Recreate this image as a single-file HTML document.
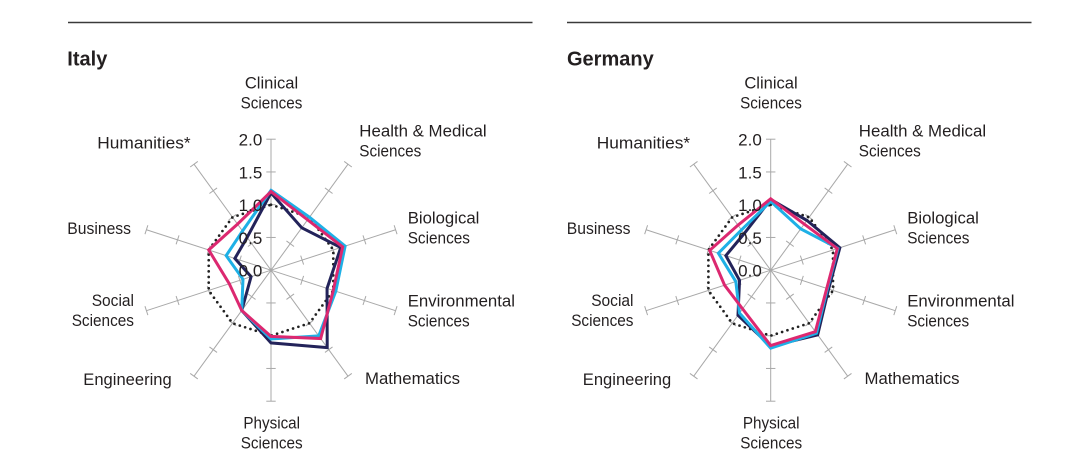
<!DOCTYPE html>
<html>
<head>
<meta charset="utf-8">
<style>
  html,body{margin:0;padding:0;background:#fff;}
  svg{display:block;}
  text{font-family:"Liberation Sans",sans-serif;fill:#231f20;}
  .lbl{font-size:17px;}
  .tk{font-size:17px;}
  .ttl{font-size:20px;font-weight:bold;}
</style>
</head>
<body>
<svg id="chart" width="1087" height="471" viewBox="0 0 1087 471" xmlns="http://www.w3.org/2000/svg">
  <rect width="1087" height="471" fill="#fff"/>
  <line x1="68" y1="22.5" x2="532.5" y2="22.5" stroke="#3a3a3a" stroke-width="1.4"/>
  <line x1="567" y1="22.5" x2="1031.5" y2="22.5" stroke="#3a3a3a" stroke-width="1.4"/>

  <g id="g0"></g>
  <g id="g1"></g>

  <!-- Italy text -->
  <text class="ttl" x="67.3" y="65.3">Italy</text>
  <g class="lbl">
    <text x="271.5" y="88.3" text-anchor="middle" textLength="53.3" lengthAdjust="spacingAndGlyphs">Clinical</text>
    <text x="271.5" y="108.3" text-anchor="middle" textLength="61.7" lengthAdjust="spacingAndGlyphs">Sciences</text>
    <text x="359.3" y="136.7" textLength="127.3" lengthAdjust="spacingAndGlyphs">Health &amp; Medical</text>
    <text x="359.3" y="156.7" textLength="62" lengthAdjust="spacingAndGlyphs">Sciences</text>
    <text x="407.7" y="223.3" textLength="71.7" lengthAdjust="spacingAndGlyphs">Biological</text>
    <text x="407.7" y="243.3" textLength="62.3" lengthAdjust="spacingAndGlyphs">Sciences</text>
    <text x="407.7" y="306.7" textLength="107.3" lengthAdjust="spacingAndGlyphs">Environmental</text>
    <text x="407.7" y="326.7" textLength="62" lengthAdjust="spacingAndGlyphs">Sciences</text>
    <text x="365" y="384" textLength="95" lengthAdjust="spacingAndGlyphs">Mathematics</text>
    <text x="271.7" y="428.3" text-anchor="middle" textLength="56.7" lengthAdjust="spacingAndGlyphs">Physical</text>
    <text x="271.7" y="448.3" text-anchor="middle" textLength="62" lengthAdjust="spacingAndGlyphs">Sciences</text>
    <text x="83.3" y="385" textLength="88.4" lengthAdjust="spacingAndGlyphs">Engineering</text>
    <text x="91.7" y="306" textLength="42.3" lengthAdjust="spacingAndGlyphs">Social</text>
    <text x="71.7" y="326" textLength="62.3" lengthAdjust="spacingAndGlyphs">Sciences</text>
    <text x="67.3" y="234" textLength="63.7" lengthAdjust="spacingAndGlyphs">Business</text>
    <text x="97.3" y="148.3" textLength="93.3" lengthAdjust="spacingAndGlyphs">Humanities*</text>
  </g>
  <g class="tk" text-anchor="end">
    <text x="262.3" y="145.7">2.0</text>
    <text x="262.3" y="178.4">1.5</text>
    <text x="262.3" y="211.2">1.0</text>
    <text x="262.3" y="243.9">0.5</text>
    <text x="262.3" y="276.7">0.0</text>
  </g>

  <!-- Germany text -->
  <text class="ttl" x="567" y="65.3">Germany</text>
  <g class="lbl">
    <text x="771" y="88.3" text-anchor="middle" textLength="53.3" lengthAdjust="spacingAndGlyphs">Clinical</text>
    <text x="771" y="108.3" text-anchor="middle" textLength="61.7" lengthAdjust="spacingAndGlyphs">Sciences</text>
    <text x="858.8" y="136.7" textLength="127.3" lengthAdjust="spacingAndGlyphs">Health &amp; Medical</text>
    <text x="858.8" y="156.7" textLength="62" lengthAdjust="spacingAndGlyphs">Sciences</text>
    <text x="907.2" y="223.3" textLength="71.7" lengthAdjust="spacingAndGlyphs">Biological</text>
    <text x="907.2" y="243.3" textLength="62.3" lengthAdjust="spacingAndGlyphs">Sciences</text>
    <text x="907.2" y="306.7" textLength="107.3" lengthAdjust="spacingAndGlyphs">Environmental</text>
    <text x="907.2" y="326.7" textLength="62" lengthAdjust="spacingAndGlyphs">Sciences</text>
    <text x="864.5" y="384" textLength="95" lengthAdjust="spacingAndGlyphs">Mathematics</text>
    <text x="771.2" y="428.3" text-anchor="middle" textLength="56.7" lengthAdjust="spacingAndGlyphs">Physical</text>
    <text x="771.2" y="448.3" text-anchor="middle" textLength="62" lengthAdjust="spacingAndGlyphs">Sciences</text>
    <text x="582.8" y="385" textLength="88.4" lengthAdjust="spacingAndGlyphs">Engineering</text>
    <text x="591.2" y="306" textLength="42.3" lengthAdjust="spacingAndGlyphs">Social</text>
    <text x="571.2" y="326" textLength="62.3" lengthAdjust="spacingAndGlyphs">Sciences</text>
    <text x="566.8" y="234" textLength="63.7" lengthAdjust="spacingAndGlyphs">Business</text>
    <text x="596.8" y="148.3" textLength="93.3" lengthAdjust="spacingAndGlyphs">Humanities*</text>
  </g>
  <g class="tk" text-anchor="end">
    <text x="761.8" y="145.7">2.0</text>
    <text x="761.8" y="178.4">1.5</text>
    <text x="761.8" y="211.2">1.0</text>
    <text x="761.8" y="243.9">0.5</text>
    <text x="761.8" y="276.7">0.0</text>
  </g>
</svg>
<script>
(function(){
  var NS="http://www.w3.org/2000/svg";
  var U=65.5;
  function el(tag,attrs,parent){
    var e=document.createElementNS(NS,tag);
    for(var k in attrs) e.setAttribute(k,attrs[k]);
    parent.appendChild(e); return e;
  }
  function pt(cx,cy,k,r){
    var a=(90-36*k)*Math.PI/180;
    return [cx+r*Math.cos(a), cy-r*Math.sin(a)];
  }
  function draw(g,cx,cy,data){
    // axes
    for(var k=0;k<10;k++){
      var p=pt(cx,cy,k,2*U);
      el("line",{x1:cx,y1:cy,x2:p[0].toFixed(2),y2:p[1].toFixed(2),stroke:"#a8a8a8","stroke-width":"1"},g);
      var a=(90-36*k)*Math.PI/180;
      var nx=Math.sin(a), ny=Math.cos(a); // perpendicular in screen coords
      for(var t=1;t<=4;t++){
        var q=pt(cx,cy,k,t*0.5*U), h=4.7;
        el("line",{x1:(q[0]-nx*h).toFixed(2),y1:(q[1]-ny*h).toFixed(2),x2:(q[0]+nx*h).toFixed(2),y2:(q[1]+ny*h).toFixed(2),stroke:"#a8a8a8","stroke-width":"1"},g);
      }
    }
    // dotted reference decagon
    var pts=[];
    for(var k=0;k<10;k++){var p=pt(cx,cy,k,U);pts.push(p[0].toFixed(2)+","+p[1].toFixed(2));}
    el("polygon",{points:pts.join(" "),fill:"none",stroke:"#222","stroke-width":"2.7","stroke-dasharray":"0 5.6","stroke-linecap":"round"},g);
    var cols=["#23235a","#1eb0e6","#dc2870"];
    for(var s=0;s<3;s++){
      var ps=[];
      for(var k=0;k<10;k++){var p=pt(cx,cy,k,data[s][k]*U);ps.push(p[0].toFixed(2)+","+p[1].toFixed(2));}
      el("polygon",{points:ps.join(" "),fill:"none",stroke:cols[s],"stroke-width":"3","stroke-linejoin":"miter"},g);
    }
  }
  var italy=[
    [1.18,0.80,1.12,0.90,1.46,1.11,0.76,0.32,0.58,0.62],
    [1.22,1.00,1.19,1.04,1.24,1.05,0.76,0.45,0.72,0.74],
    [1.20,0.95,1.15,1.00,1.29,1.01,0.76,0.67,1.00,0.87]
  ];
  var germany=[
    [1.08,0.94,1.11,0.93,1.22,1.16,0.85,0.50,0.72,0.69],
    [1.05,0.78,1.08,0.91,1.19,1.19,0.81,0.56,0.84,0.76],
    [1.09,0.87,1.07,0.90,1.16,1.15,0.73,0.74,0.98,0.85]
  ];
  draw(document.getElementById("g0"),271,270.2,italy);
  draw(document.getElementById("g1"),770.7,270.2,germany);
})();
</script>
</body>
</html>
